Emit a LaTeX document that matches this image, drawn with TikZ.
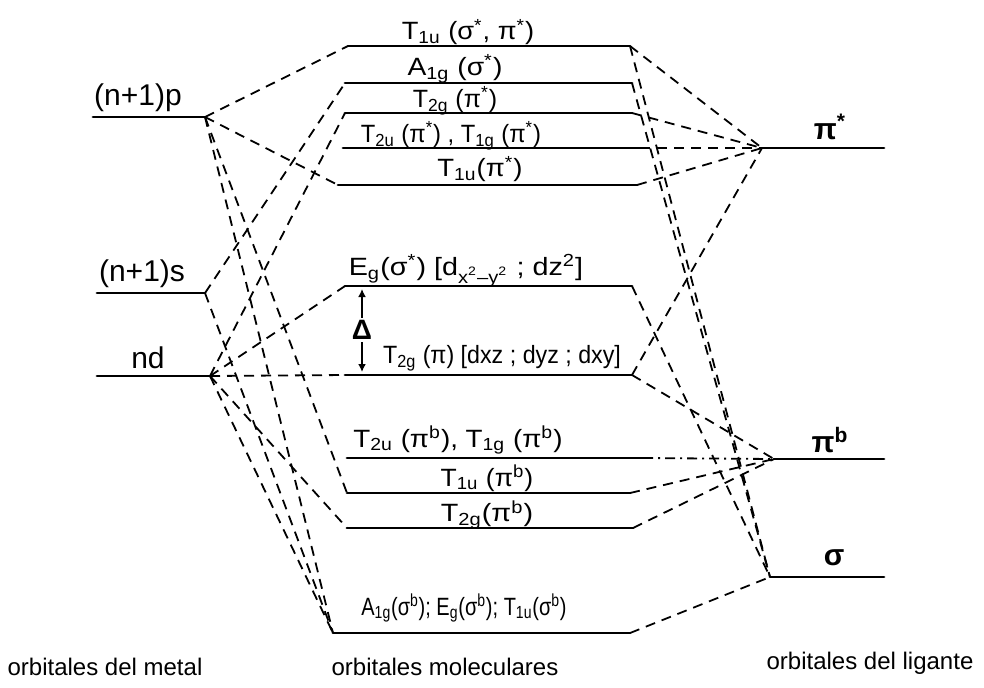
\documentclass[tikz,border=0pt]{standalone}
\usepackage{fontspec}
\usepackage{graphicx}
\setmainfont{Liberation Sans}
\usetikzlibrary{arrows.meta}
\newcommand{\lo}[1]{\textsubscript{#1}}
\newcommand{\hi}[1]{\textsuperscript{#1}}
\newcommand{\stretchx}[2]{\scalebox{#1}[1]{#2}}
\begin{document}
\begin{tikzpicture}[x=0.5pt,y=-0.5pt,
  level/.style={line width=1.4pt, line cap=round},
  link/.style={line width=0.9pt, dash pattern=on 5pt off 3.5pt},
  dotlink/.style={line width=0.9pt, dash pattern=on 5pt off 2.5pt on 1pt off 2.5pt},
  lab/.style={font=\fontsize{12.5}{13}\selectfont, inner sep=0pt},
  big/.style={font=\fontsize{15}{17}\selectfont, inner sep=0pt},
  foot/.style={font=\fontsize{12}{14}\selectfont, inner sep=0pt}]
\useasboundingbox (0,0) rectangle (984,687);

% metal levels
\coordinate (p-l) at (93,117);  \coordinate (p-r) at (205,117);
\coordinate (s-l) at (97,293);  \coordinate (s-r) at (205,293);
\coordinate (d-l) at (97,376);  \coordinate (d-r) at (210,376);
% molecular orbital levels
\coordinate (m1-l) at (348,46);   \coordinate (m1-r) at (630,46);
\coordinate (m2-l) at (345,83);   \coordinate (m2-r) at (632,83);
\coordinate (m3-l) at (345,113);  \coordinate (m3-r) at (632,113);
\coordinate (m4-l) at (343,148);  \coordinate (m4-r) at (640,148);
\coordinate (m5-l) at (338,185);  \coordinate (m5-r) at (637,185);
\coordinate (m6-l) at (345,286);  \coordinate (m6-r) at (632,286);
\coordinate (m7-l) at (345,375);  \coordinate (m7-r) at (632,375);
\coordinate (m8-l) at (347,458);  \coordinate (m8-r) at (643,458);
\coordinate (m9-l) at (347,493);  \coordinate (m9-r) at (630,493);
\coordinate (m10-l) at (347,528); \coordinate (m10-r) at (633,528);
\coordinate (m11-l) at (333,633); \coordinate (m11-r) at (630,633);
% ligand levels
\coordinate (pis-l) at (762,148); \coordinate (pis-r) at (884,148);
\coordinate (pib-l) at (774,459); \coordinate (pib-r) at (884,459);
\coordinate (sig-l) at (770,577); \coordinate (sig-r) at (884,577);

\foreach \n in {p,s,d,m1,m2,m3,m4,m5,m6,m7,m8,m9,m10,m11,pis,pib,sig}
  \draw[level] (\n-l) -- (\n-r);

% metal to molecular orbitals
\draw[link] (p-r) -- (m1-l);
\draw[link] (p-r) -- (m5-l);
\draw[link] (p-r) -- (m9-l);
\draw[link] (p-r) -- (m11-l);
\draw[link] (s-r) -- (m2-l);
\draw[link] (s-r) -- (m11-l);
\draw[link] (d-r) -- (m3-l);
\draw[link] (d-r) -- (m6-l);
\draw[link] (d-r) -- (m7-l);
\draw[link] (d-r) -- (m10-l);
\draw[link] (d-r) -- (m11-l);

% ligand to molecular orbitals
\draw[link] (m1-r) -- (pis-l);
\draw[link] (m1-r) -- (sig-l);
\draw[link] (m2-r) -- (sig-l);
\draw[link] (m3-r) -- (pis-l);
\draw[link] (m4-r) -- (pis-l);
\draw[link] (m5-r) -- (pis-l);
\draw[link] (m6-r) -- (sig-l);
\draw[link] (m7-r) -- (pis-l);
\draw[link] (m7-r) -- (pib-l);
\draw[dotlink] (m8-r) -- (pib-l);
\draw[link] (m9-r) -- (pib-l);
\draw[link] (m10-r) -- (pib-l);
\draw[link] (m11-r) -- (sig-l);

% ligand field splitting
\node[font=\fontsize{14}{16}\selectfont\bfseries, inner sep=1pt] (delta) at (362,330) {Δ};
\draw[line width=1.2pt, -{Latex[length=4pt,width=4pt]}] (delta.north) -- (362,289);
\draw[line width=1.2pt, -{Latex[length=4pt,width=4pt]}] (delta.south) -- (362,372);

% level labels
\node[big] (lp) at (138,98) {(n+1)p};
\node[big] (ls) at (142,274) {(n+1)s};
\node[big] (ld) at (148,358) {nd};

\node[lab] (l1) at (468,32) {\stretchx{1.09}{T\lo{1u} (σ\hi{*}, π\hi{*})}};
\node[lab] (l2) at (455,69) {\stretchx{1.13}{A\lo{1g} (σ\hi{*})}};
\node[lab] (l3) at (455,101) {\stretchx{1.0}{T\lo{2g} (π\hi{*})}};
\node[lab] (l4) at (451,136) {\stretchx{0.95}{T\lo{2u} (π\hi{*}) , T\lo{1g} (π\hi{*})}};
\node[lab] (l5) at (480,169) {\stretchx{1.1}{T\lo{1u}(π\hi{*})}};
\node[lab] (l6) at (466,271) {\stretchx{1.15}{E\lo{g}(σ\hi{*}) [d\lo{x\hi{2}–y\hi{2}} ; dz\hi{2}]}};
\node[lab] (l7) at (502,358) {\stretchx{0.93}{T\lo{2g} (π) [dxz ; dyz ; dxy]}};
\node[lab] (l8) at (458,440) {\stretchx{1.11}{T\lo{2u} (π\hi{b}), T\lo{1g} (π\hi{b})}};
\node[lab] (l9) at (487,478) {\stretchx{1.06}{T\lo{1u} (π\hi{b})}};
\node[lab] (l10) at (487,515) {\stretchx{1.15}{T\lo{2g}(π\hi{b})}};
\node[lab] (l11) at (464,608) {\stretchx{0.8}{A\lo{1g}(σ\hi{b}); E\lo{g}(σ\hi{b}); T\lo{1u}(σ\hi{b})}};

\node[big] (rp) at (830,127) {\bfseries π\hi{*}};
\node[big] (rb) at (830,440) {\bfseries π\hi{b}};
\node[big] (rs) at (834,558) {\bfseries σ};

% column captions
\node[foot] (f1) at (105,667) {orbitales del metal};
\node[foot] (f2) at (445,667) {orbitales moleculares};
\node[foot] (f3) at (870,663) {orbitales del ligante};
\end{tikzpicture}
\end{document}
